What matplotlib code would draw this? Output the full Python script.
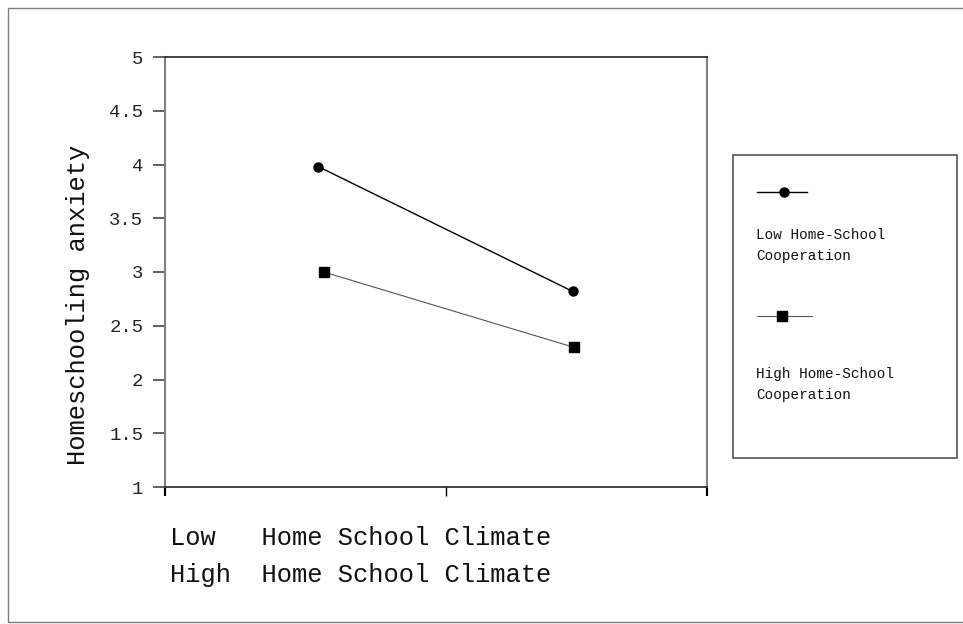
import matplotlib
matplotlib.use("Agg")
import matplotlib.pyplot as plt
from matplotlib.lines import Line2D
from matplotlib.patches import Rectangle

# ---- data ----
climate_pos = [0.283, 0.752]          # Low / High home school climate (x positions on axis)
climate_pos_high = [0.293, 0.754]
low_coop = [3.98, 2.82]
high_coop = [3.00, 2.30]
series_labels = ["Low Home-School\nCooperation", "High Home-School\nCooperation"]
y_ticks = [1, 1.5, 2, 2.5, 3, 3.5, 4, 4.5, 5]
y_tick_labels = ["1", "1.5", "2", "2.5", "3", "3.5", "4", "4.5", "5"]
x_label_lines = ["Low   Home School Climate", "High  Home School Climate"]
y_label = "Homeschooling anxiety"

W, H = 963, 624
FONT = "Liberation Mono"

def fx(x):
    return x / W

def fy(y):
    return 1 - y / H

fig = plt.figure(figsize=(W / 100, H / 100), dpi=100)
fig.patch.set_facecolor("white")

# outer border
fig.add_artist(Rectangle((fx(8), fy(622)), fx(975) - fx(8), fy(8) - fy(622),
                         transform=fig.transFigure, fill=False,
                         edgecolor="#7f7f7f", lw=1.0))

# main axes
L, R, T, B = 165, 707, 57, 487
ax = fig.add_axes([fx(L), fy(B), fx(R) - fx(L), fy(T) - fy(B)])
ax.plot(climate_pos, low_coop, color="black", lw=1.0, marker="o",
        markersize=6.5, markerfacecolor="black", markeredgecolor="black")
ax.plot(climate_pos_high, high_coop, color="#555555", lw=0.8, marker="s",
        markersize=7.0, markerfacecolor="black", markeredgecolor="black")

ax.set_xlim(0, 1)
ax.set_ylim(1, 5)
ax.set_yticks(y_ticks)
ax.set_yticklabels(y_tick_labels, fontfamily=FONT, fontsize=13.6, color="#222222")
ax.tick_params(axis="y", direction="out", length=8.6, width=1.2,
               color="#444444", pad=7)
ax.set_xticks([0, 0.518, 1])
ax.set_xticklabels([])
ax.tick_params(axis="x", direction="out", length=6.5, width=1.0, color="black")
xt = ax.xaxis.get_major_ticks()
for i in (0, 2):
    xt[i].tick1line.set_color("#808080")
    xt[i].tick1line.set_markeredgewidth(1.6)

for s in ("left", "right"):
    ax.spines[s].set_color("#808080")
    ax.spines[s].set_linewidth(1.5)
for s in ("top", "bottom"):
    ax.spines[s].set_color("#222222")
    ax.spines[s].set_linewidth(1.2)

# y label
fig.text(fx(78), fy(305), y_label, rotation=90, ha="center", va="center",
         fontfamily=FONT, fontsize=18.4, color="#111111")

# x category label lines
fig.text(fx(170), fy(545), x_label_lines[0], ha="left", va="baseline",
         fontfamily=FONT, fontsize=18.4, color="#111111")
fig.text(fx(170), fy(582), x_label_lines[1], ha="left", va="baseline",
         fontfamily=FONT, fontsize=18.4, color="#111111")

# legend box
lx0, ly0, lx1, ly1 = 733, 155, 957, 458
fig.add_artist(Rectangle((fx(lx0), fy(ly1)), fx(lx1) - fx(lx0), fy(ly0) - fy(ly1),
                         transform=fig.transFigure, fill=False,
                         edgecolor="#555555", lw=1.2))
fig.add_artist(Line2D([fx(757), fx(807)], [fy(192), fy(192)], transform=fig.transFigure,
                      color="black", lw=1.0))
fig.add_artist(Line2D([fx(784)], [fy(192)], transform=fig.transFigure, color="black",
                      marker="o", markersize=6.5, linestyle="none"))
fig.add_artist(Line2D([fx(757), fx(812)], [fy(316), fy(316)], transform=fig.transFigure,
                      color="#555555", lw=0.8))
fig.add_artist(Line2D([fx(782)], [fy(316)], transform=fig.transFigure, color="black",
                      marker="s", markersize=7.0, linestyle="none"))

for lbl, base in zip(series_labels, (239, 378)):
    l1, l2 = lbl.split("\n")
    fig.text(fx(756), fy(base), l1, ha="left", va="baseline",
             fontfamily=FONT, fontsize=10.4, color="#111111")
    fig.text(fx(756), fy(base + 21), l2, ha="left", va="baseline",
             fontfamily=FONT, fontsize=10.4, color="#111111")

fig.savefig("out.png", dpi=100)
